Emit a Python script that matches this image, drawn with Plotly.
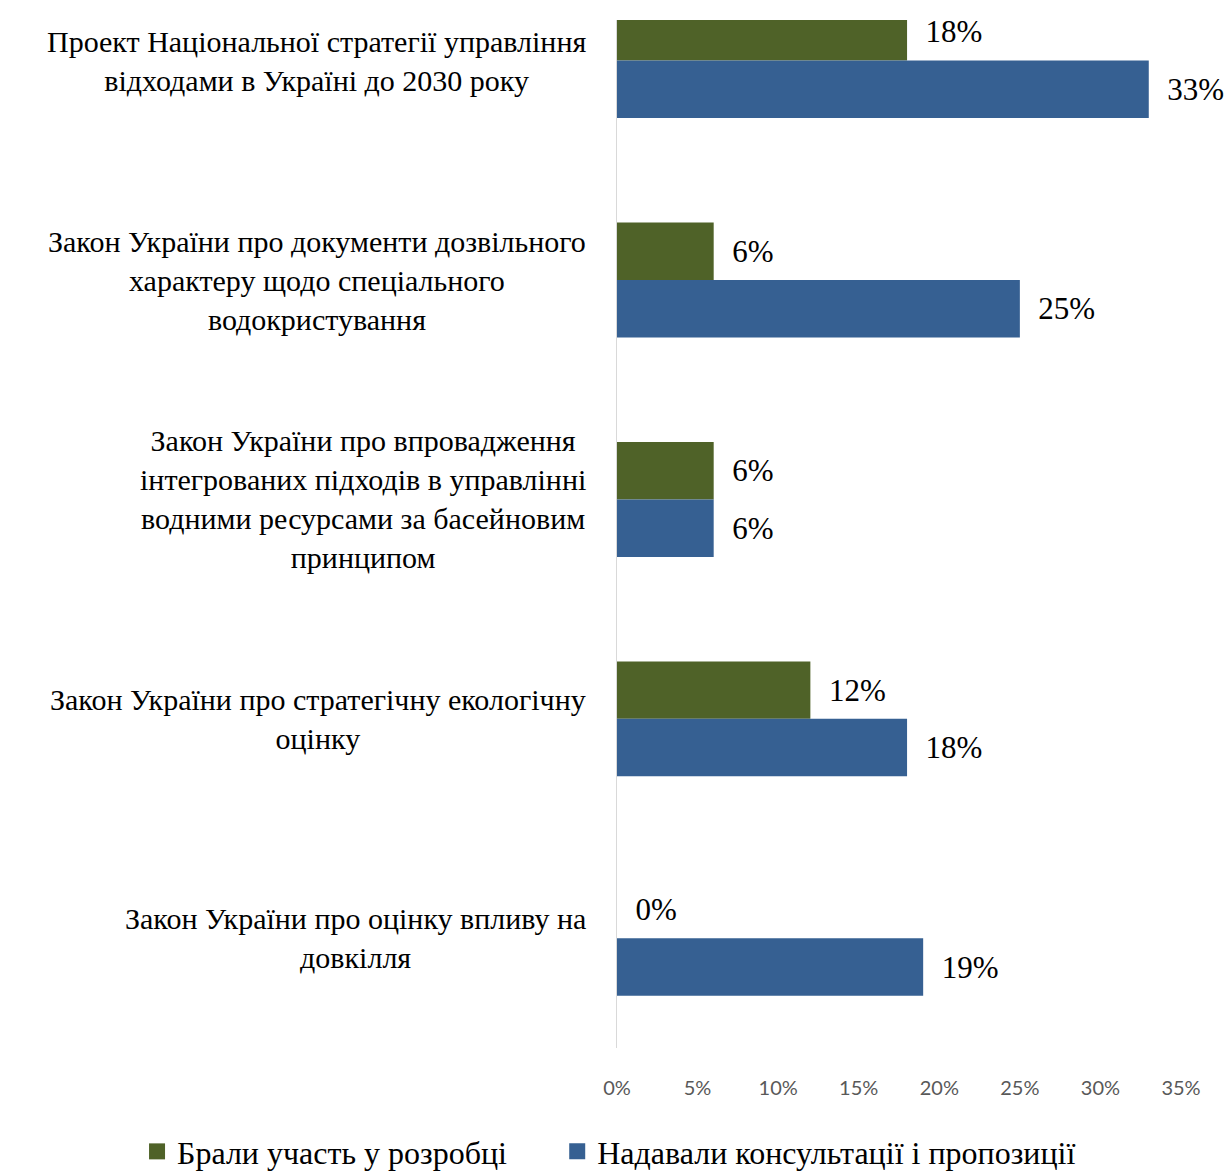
import plotly.graph_objects as go

# Survey results: share of respondents per legislative document
categories = [
    "Проект Національної стратегії управління<br>відходами в Україні до 2030 року",
    "Закон України про документи дозвільного<br>характеру щодо спеціального<br>водокристування",
    "Закон України про впровадження<br>інтегрованих підходів в управлінні<br>водними ресурсами за басейновим<br>принципом",
    "Закон України про стратегічну екологічну<br>оцінку",
    "Закон України про оцінку впливу на<br>довкілля",
]
series_names = ["Брали участь у розробці", "Надавали консультації і пропозиції"]
participated = [18, 6, 6, 12, 0]
consulted = [33, 25, 6, 18, 19]
tick_values = [0, 5, 10, 15, 20, 25, 30, 35]
tick_labels = ["0%", "5%", "10%", "15%", "20%", "25%", "30%", "35%"]

colors = ["#4F6228", "#366092"]
serif = "Liberation Serif"
legend_ids = ["legend", "legend2"]

positions = list(range(len(categories)))

fig = go.Figure()
for name, vals, col in zip(series_names, [participated, consulted], colors):
    fig.add_trace(go.Bar(
        y=positions,
        x=vals,
        orientation="h",
        name=name,
        showlegend=False,
        marker=dict(color=col, line=dict(width=0)),
        text=["  %d%%" % v for v in vals],
        textposition="outside",
        textfont=dict(family=serif, size=31, color="#000000"),
        constraintext="none",
        cliponaxis=False,
    ))

# Legend keys drawn as larger square swatches
for name, col, lg in zip(series_names, colors, legend_ids):
    fig.add_trace(go.Scatter(
        x=[None], y=[None],
        mode="markers",
        name=name,
        legend=lg,
        marker=dict(symbol="square", size=16, color=col),
        hoverinfo="skip",
    ))

# Category labels, centred line by line and right-aligned to the axis
for i, label in enumerate(categories):
    fig.add_annotation(
        x=-29 / 564, xref="paper",
        y=i, yref="y",
        text=label,
        showarrow=False,
        xanchor="right", yanchor="middle",
        align="center",
        font=dict(family=serif, size=30, color="#000000"),
    )

legend_style = dict(
    orientation="h",
    xanchor="left",
    y=-0.074, yanchor="top",
    itemsizing="trace",
    font=dict(family=serif, size=32, color="#000000"),
)

fig.update_layout(
    width=1227, height=1172,
    font=dict(family=serif),
    margin=dict(l=617, r=46, t=20, b=124, autoexpand=False),
    paper_bgcolor="white",
    plot_bgcolor="white",
    barmode="group",
    bargap=0.476,
    bargroupgap=0,
    showlegend=True,
    legend=dict(x=-0.851, **legend_style),
    legend2=dict(x=-0.106, **legend_style),
    xaxis=dict(
        range=[0, 35],
        tickvals=tick_values,
        ticktext=tick_labels,
        showgrid=False,
        zeroline=False,
        showline=False,
        ticks="",
        ticklabelstandoff=26,
        automargin=False,
        tickfont=dict(family="Lato", size=20, color="#595959"),
    ),
    yaxis=dict(
        range=[4.5, -0.185],
        showticklabels=False,
        showgrid=False,
        zeroline=False,
        showline=True,
        linecolor="#D9D9D9",
        linewidth=1,
        ticks="",
        automargin=False,
    ),
)

fig.write_html("out.html")
